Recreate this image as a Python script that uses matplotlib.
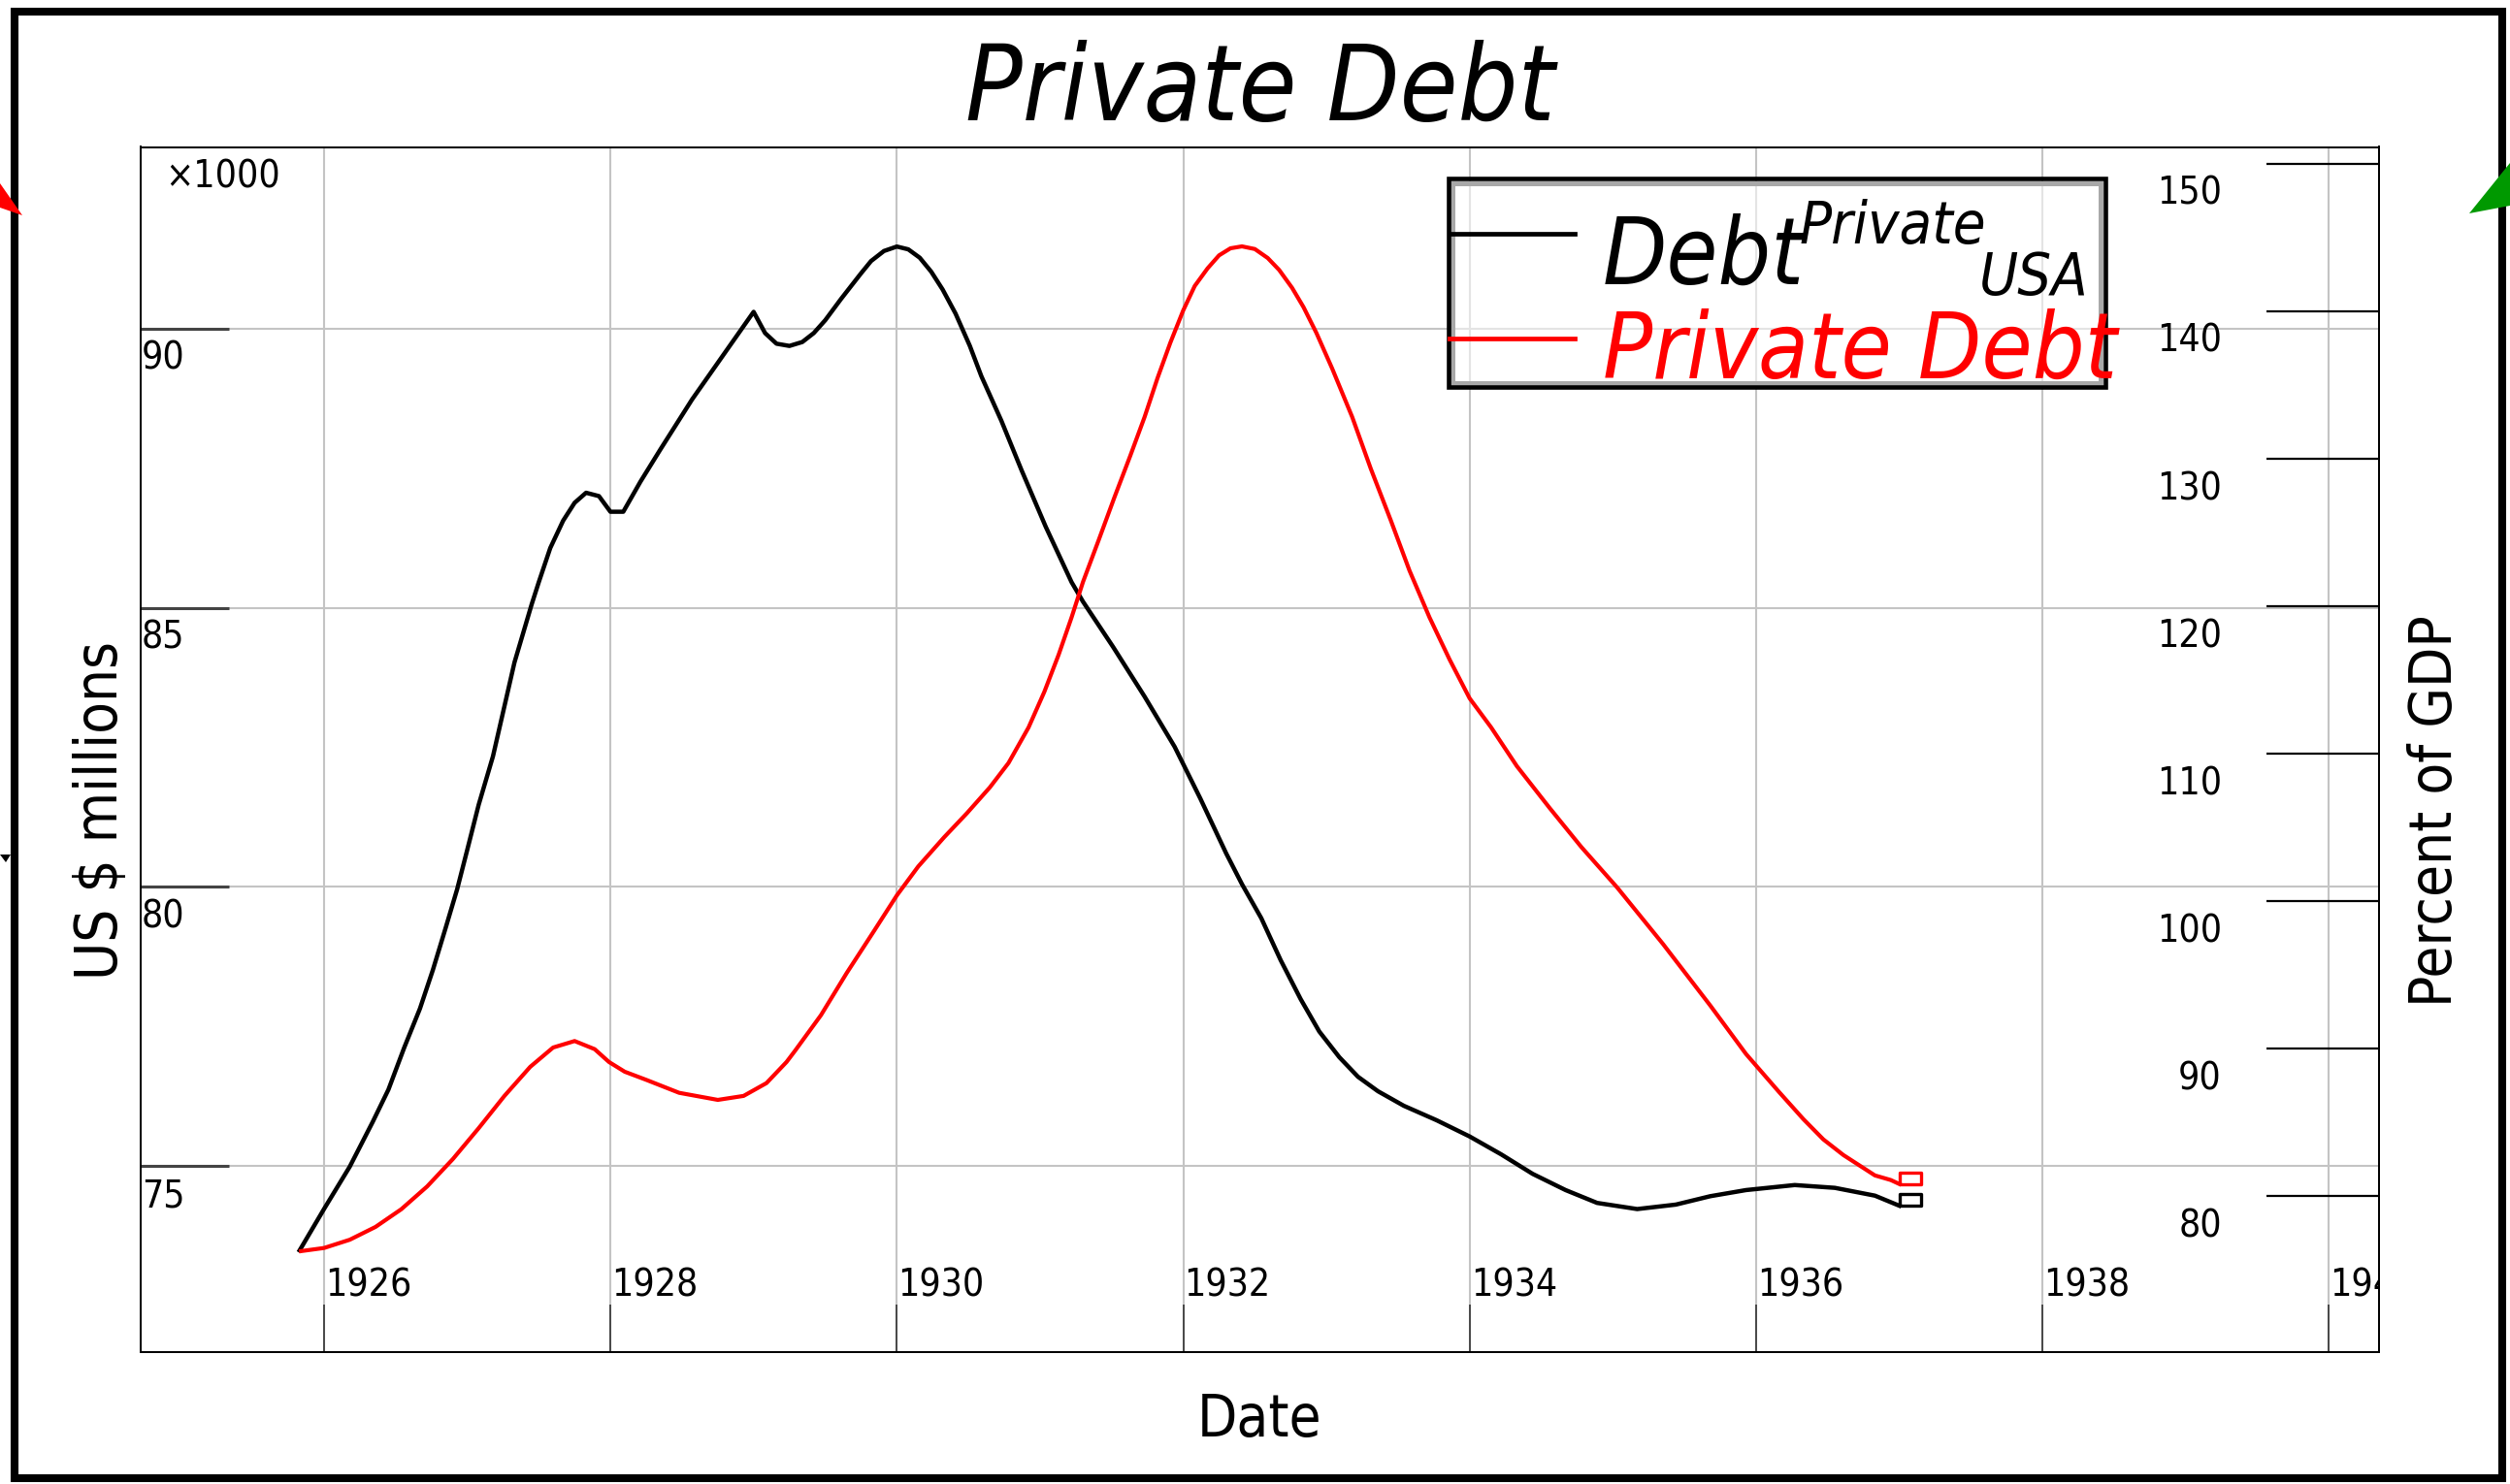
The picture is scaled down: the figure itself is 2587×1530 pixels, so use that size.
import matplotlib
matplotlib.use('Agg')
import matplotlib.pyplot as plt
from matplotlib.patches import Rectangle, Polygon
from matplotlib.lines import Line2D
from matplotlib.path import Path
from matplotlib.transforms import offset_copy

plt.rcParams['font.family'] = 'DejaVu Sans'
plt.rcParams['font.stretch'] = 'condensed'

# private debt, US $ millions (left axis)
debt_years = [1925.83, 1926.00, 1926.18, 1926.34, 1926.45, 1926.56, 1926.67, 1926.76,
              1926.85, 1926.93, 1927.00, 1927.08, 1927.18, 1927.33, 1927.45, 1927.50,
              1927.58, 1927.67, 1927.75, 1927.83, 1927.92, 1928.00, 1928.09, 1928.21,
              1928.35, 1928.57, 1928.80, 1929.00, 1929.08, 1929.16, 1929.25, 1929.34,
              1929.42, 1929.50, 1929.61, 1929.75, 1929.82, 1929.91, 1930.00, 1930.08,
              1930.16, 1930.24, 1930.32, 1930.41, 1930.51, 1930.59, 1930.73, 1930.87,
              1931.04, 1931.22, 1931.30, 1931.51, 1931.73, 1931.94, 1932.12, 1932.30,
              1932.41, 1932.545, 1932.68, 1932.82, 1932.95, 1933.09, 1933.22, 1933.36,
              1933.54, 1933.77, 1934.00, 1934.22, 1934.44, 1934.67, 1934.89, 1935.17,
              1935.44, 1935.68, 1935.93, 1936.27, 1936.55, 1936.83, 1937.00]
debt_usd = [73490, 74230, 74990, 75790, 76370, 77120, 77820, 78510,
            79270, 79960, 80660, 81470, 82340, 84020, 85060, 85460,
            86070, 86560, 86880, 87060, 87000, 86720, 86720, 87260,
            87840, 88730, 89570, 90300, 89920, 89730, 89690, 89760,
            89920, 90150, 90530, 90990, 91210, 91390, 91470, 91420,
            91270, 91020, 90700, 90270, 89690, 89150, 88350, 87470,
            86450, 85460, 85110, 84300, 83410, 82510, 81580, 80600,
            80050, 79440, 78690, 77990, 77410, 76950, 76600, 76340,
            76080, 75820, 75530, 75210, 74860, 74570, 74340, 74230,
            74310, 74460, 74570, 74660, 74610, 74470, 74290]

# private debt, percent of GDP (right axis)
pct_years = [1925.84, 1926.00, 1926.18, 1926.36, 1926.54, 1926.72, 1926.90, 1927.08,
             1927.26, 1927.44, 1927.60, 1927.75, 1927.89, 1927.99, 1928.10, 1928.25,
             1928.48, 1928.75, 1928.93, 1929.09, 1929.23, 1929.29, 1929.47, 1929.65,
             1929.84, 1930.00, 1930.15, 1930.33, 1930.49, 1930.65, 1930.78, 1930.92,
             1931.03, 1931.13, 1931.22, 1931.30, 1931.41, 1931.52, 1931.63, 1931.73,
             1931.82, 1931.91, 1932.00, 1932.08, 1932.17, 1932.25, 1932.33, 1932.41,
             1932.50, 1932.59, 1932.67, 1932.76, 1932.84, 1932.93, 1933.04, 1933.18,
             1933.31, 1933.45, 1933.58, 1933.72, 1933.86, 1934.00, 1934.15, 1934.33,
             1934.56, 1934.78, 1935.03, 1935.35, 1935.68, 1935.93, 1936.16, 1936.33,
             1936.47, 1936.61, 1936.83, 1936.94, 1937.00]
debt_pct_gdp = [76.29, 76.50, 77.06, 77.93, 79.13, 80.67, 82.53, 84.62,
                86.81, 88.78, 90.09, 90.53, 89.98, 89.11, 88.45, 87.90,
                87.02, 86.54, 86.81, 87.68, 89.11, 89.88, 92.28, 95.14,
                97.98, 100.40, 102.37, 104.34, 105.98, 107.73, 109.38, 111.79,
                114.20, 116.72, 119.24, 121.65, 124.50, 127.40, 130.20, 132.83,
                135.46, 137.87, 140.06, 141.71, 142.91, 143.79, 144.27, 144.40,
                144.22, 143.61, 142.80, 141.59, 140.28, 138.53, 136.12, 132.83,
                129.32, 125.81, 122.42, 119.24, 116.39, 113.76, 111.79, 109.16,
                106.31, 103.68, 100.94, 97.11, 92.94, 89.65, 87.08, 85.24,
                83.86, 82.80, 81.42, 81.11, 80.84]

x_ticks = [1926, 1928, 1930, 1932, 1934, 1936, 1938, 1940]
usd_ticks = [75000, 80000, 85000, 90000]
pct_ticks = [80, 90, 100, 110, 120, 130, 140, 150]

W, H = 2587, 1530
fig = plt.figure(figsize=(W / 100, H / 100), dpi=100)


def fx(px):
    return px / W


def fy(py):
    return 1 - py / H


ax = fig.add_axes([fx(145), fy(1393.6), (2452 - 145) / W, (1393.6 - 151.5) / H])
ax2 = ax.twinx()

ax.set_xlim(1924.72, 1940.35)
ax.set_ylim(71675, 93254)
ax2.set_ylim(69.47, 151.14)

# end markers: small open boxes sitting on the last point
box = Path([(0, 0), (1, 0), (1, 0.52), (0, 0.52), (0, 0)],
           [Path.MOVETO, Path.LINETO, Path.LINETO, Path.LINETO, Path.CLOSEPOLY])
ax.plot(debt_years, debt_usd, color='black', lw=3.2, solid_joinstyle='round',
        marker=box, markevery=[len(debt_years) - 1], markersize=32,
        markeredgewidth=2.4, markerfacecolor='none', markeredgecolor='black')
ax2.plot(pct_years, debt_pct_gdp, color='red', lw=3.0, solid_joinstyle='round',
         marker=box, markevery=[len(pct_years) - 1], markersize=32,
         markeredgewidth=2.4, markerfacecolor='none', markeredgecolor='red')

ax.set_xticks(x_ticks)
ax.set_yticks(usd_ticks)
ax2.set_yticks(pct_ticks)
ax.grid(True, color='#c4c4c4', lw=1.5)
ax.tick_params(axis='x', direction='in', length=35, width=1.2, color='#333333', labelbottom=False)
ax.tick_params(axis='y', direction='in', length=65.5, width=2.2, color='#444444', labelleft=False)
ax2.tick_params(axis='y', direction='in', length=83.5, width=1.6, color='black', labelright=False)
for a in (ax, ax2):
    for s in a.spines.values():
        s.set_linewidth(1.4)

tick_fs = 28
xlab_tr = offset_copy(ax.get_xaxis_transform(), fig=fig, x=1, y=57, units='dots')
for yr in x_ticks:
    ax.text(yr, 0, str(yr), transform=xlab_tr, ha='left', va='baseline',
            fontsize=tick_fs, clip_on=True)
ylab_tr = offset_copy(ax.get_yaxis_transform(), fig=fig, x=1, y=-42, units='dots')
for v in usd_ticks:
    ax.text(0, v, str(v // 1000), transform=ylab_tr, ha='left', va='baseline',
            fontsize=tick_fs)
rlab_tr = offset_copy(ax2.get_yaxis_transform(), fig=fig, x=-162, y=-42, units='dots')
for v in pct_ticks:
    ax2.text(1, v, str(v), transform=rlab_tr, ha='right', va='baseline',
             fontsize=tick_fs)
ax.text(0, 1, '\u00d71000', fontsize=tick_fs, ha='left', va='baseline',
        transform=offset_copy(ax.transAxes, fig=fig, x=25, y=-41.5, units='dots'))

ax.set_title('Private Debt', fontsize=78, fontstyle='italic', pad=19.8)
fig.text(fx(1298), fy(1481), 'Date', fontsize=43, ha='center', va='baseline')
fig.text(fx(104), fy(836), 'US $ millions', fontsize=43, rotation=90,
         ha='center', va='center')
fig.text(fx(2510), fy(836), 'Percent of GDP', fontsize=43, rotation=90,
         ha='center', va='center')

# legend drawn by hand (label text runs past the box like the original)
def frame(x0, y0, x1, y1, **kw):
    r = Rectangle((fx(x0), fy(y1)), fx(x1) - fx(x0), fy(y0) - fy(y1),
                  transform=fig.transFigure, **kw)
    fig.add_artist(r)

frame(1497.5, 189, 2165, 394.5, facecolor='white', alpha=0.55, edgecolor='none')
frame(1497.5, 189, 2165, 394.5, fill=False, edgecolor='#a8a8a8', lw=3.6)
frame(1492.8, 184.3, 2169.7, 399.2, fill=False, edgecolor='black', lw=3.3)
fig.add_artist(Line2D([fx(1494), fx(1623)], [fy(241), fy(241)], color='black', lw=3.4,
                      transform=fig.transFigure))
fig.add_artist(Line2D([fx(1494), fx(1623)], [fy(348.5), fy(348.5)], color='red', lw=3.4,
                      transform=fig.transFigure))
fig.text(fx(1652), fy(293), 'Debt', fontsize=69, fontstyle='italic', va='baseline')
fig.text(fx(1854), fy(251), 'Private', fontsize=44, fontstyle='italic', va='baseline')
fig.text(fx(2040), fy(303.6), 'USA', fontsize=44, fontstyle='italic', va='baseline')
fig.text(fx(1652), fy(390), 'Private Debt', fontsize=68, fontstyle='italic',
         color='red', va='baseline')

# outer frame and the little corner marks of the original
frame(14.5, 11.5, 2579, 1523.5, fill=False, edgecolor='black', lw=5.8)
for pts, col in [([(0, 189), (23, 222), (0, 214)], 'red'),
                 ([(2545, 220), (2587, 168), (2587, 212)], '#009900'),
                 ([(0, 881), (11, 881), (6, 889)], 'black')]:
    fig.add_artist(Polygon([(fx(a), fy(b)) for a, b in pts], closed=True,
                           transform=fig.transFigure, color=col, lw=0))

fig.savefig('out.png', dpi=100)
